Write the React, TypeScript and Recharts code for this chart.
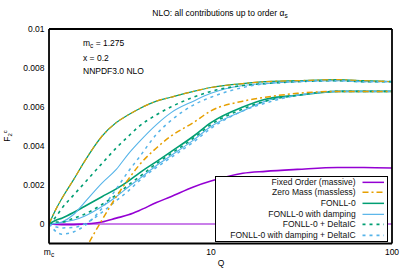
import React from 'react';
import { LineChart, Line, XAxis, YAxis, Legend } from 'recharts';

const FONT = '"Liberation Sans", Arial, Helvetica, sans-serif';

// ---------- data ----------
const qValues = [1.275, 1.4, 1.5, 1.75, 2, 2.5, 3, 3.5, 4, 5, 6, 8, 10, 15, 20, 30, 50, 70, 100];

// upper family
const fixedOrderA = [0, 0, 0, 0, 0, 0, 0, 0, 0, 0, 0, 0, 0, 0, 0, 0, 0, 0, 0];
const zeroMassA = [0, 0.0008, 0.0013, 0.0023, 0.0032, 0.0045, 0.0052, 0.0056, 0.0059, 0.0063, 0.0065, 0.0068, 0.007, 0.0072, 0.0073, 0.00735, 0.0074, 0.00735, 0.0073];
const fonllA = [0, 0.0008, 0.0013, 0.0023, 0.0032, 0.0045, 0.0052, 0.0056, 0.0059, 0.0063, 0.0065, 0.0068, 0.007, 0.0072, 0.0073, 0.00735, 0.0074, 0.00735, 0.0073];
const fonllDampA = [0, 0.00003, 0.0001, 0.0005, 0.0011, 0.0021, 0.0028, 0.0036, 0.0042, 0.0051, 0.0057, 0.0063, 0.0067, 0.0071, 0.0072, 0.0073, 0.00735, 0.0073, 0.0073];
const fonllDeltaA = [0, 0.0004, 0.0008, 0.0015, 0.0021, 0.0031, 0.0039, 0.0045, 0.005, 0.0056, 0.006, 0.0065, 0.0068, 0.0071, 0.0072, 0.0073, 0.00735, 0.0073, 0.0073];
const fonllDampDeltaA = [0, -0.0004, -0.00052, -0.0004, -0.0001, 0.0008, 0.0018, 0.0027, 0.0034, 0.0046, 0.0053, 0.0061, 0.0065, 0.007, 0.0072, 0.0073, 0.00735, 0.0073, 0.0073];

// lower family
const fixedOrderB = [0, -0.00002, -0.00003, -0.00003, 0, 0.0001, 0.0003, 0.00047, 0.00068, 0.0011, 0.0014, 0.0019, 0.0022, 0.0026, 0.0027, 0.0028, 0.0029, 0.0029, 0.00287];
const zeroMassB = [-0.007, -0.005, -0.0041, -0.0025, -0.0014, 0.0002, 0.0014, 0.0023, 0.003, 0.0039, 0.0045, 0.0052, 0.0058, 0.0063, 0.0065, 0.0067, 0.0068, 0.0068, 0.0068];
const fonllB = [0, 0.0002, 0.0003, 0.0006, 0.0009, 0.0014, 0.0018, 0.0022, 0.0026, 0.0032, 0.0037, 0.0045, 0.0052, 0.006, 0.0064, 0.0066, 0.0068, 0.0068, 0.0068];
const fonllDampB = [0, 0.00003, 0.00008, 0.0002, 0.0004, 0.0009, 0.0014, 0.0019, 0.0023, 0.003, 0.0035, 0.0043, 0.005, 0.0058, 0.0063, 0.0066, 0.0068, 0.0068, 0.0068];
const fonllDeltaB = [0, 0.0001, 0.0001, 0.0003, 0.0005, 0.001, 0.0015, 0.002, 0.0024, 0.0031, 0.0036, 0.0044, 0.0051, 0.0059, 0.0063, 0.0066, 0.0068, 0.0068, 0.0068];
const fonllDampDeltaB = [0, -0.00015, -0.0002, -0.00018, 0, 0.0006, 0.0012, 0.0017, 0.0022, 0.0029, 0.0034, 0.0042, 0.0049, 0.0058, 0.0062, 0.0066, 0.0068, 0.0068, 0.0068];

const xTicks = [1.275, 10, 100];
const xMajorTickMarks = [10];
const xMinorTicks = [2, 3, 4, 5, 6, 7, 8, 9, 20, 30, 40, 50, 60, 70, 80, 90];
const yTicks = [0, 0.002, 0.004, 0.006, 0.008, 0.01];
const yTickLabels = ['0', '0.002', '0.004', '0.006', '0.008', '0.01'];

const legendNames = [
  'Fixed Order (massive)',
  'Zero Mass (massless)',
  'FONLL-0',
  'FONLL-0 with damping',
  'FONLL-0 + DeltaIC',
  'FONLL-0 with damping + DeltaIC',
];

// ---------- styles ----------
const PURPLE = '#9400d3';
const ORANGE = '#e69f00';
const GREEN = '#009e73';
const BLUE = '#56b4e9';

const legendStyles = [
  { color: PURPLE, dash: undefined as string | undefined, width: 1.5 },
  { color: ORANGE, dash: '6 3 2 3', width: 1.5 },
  { color: GREEN, dash: undefined, width: 1.5 },
  { color: BLUE, dash: undefined, width: 1.2 },
  { color: GREEN, dash: '3 4', width: 1.8 },
  { color: BLUE, dash: '3 4', width: 1.8 },
];

const series = [
  { key: 'foB', values: fixedOrderB, style: 0, width: 1.6 },
  { key: 'foA', values: fixedOrderA, style: 0, width: 1.1 },
  { key: 'fnA', values: fonllA, style: 2, width: 1.2 },
  { key: 'fnB', values: fonllB, style: 2, width: 1.6 },
  { key: 'fdA', values: fonllDampA, style: 3, width: 1.1 },
  { key: 'fdB', values: fonllDampB, style: 3, width: 1.1 },
  { key: 'fcA', values: fonllDeltaA, style: 4, width: 1.6 },
  { key: 'fcB', values: fonllDeltaB, style: 4, width: 1.6 },
  { key: 'fdcA', values: fonllDampDeltaA, style: 5, width: 1.5 },
  { key: 'fdcB', values: fonllDampDeltaB, style: 5, width: 1.5 },
  { key: 'zmA', values: zeroMassA, style: 1, width: 1.2 },
  { key: 'zmB', values: zeroMassB, style: 1, width: 1.5 },
];

const data = qValues.map((q, i) => {
  const row: Record<string, number> = { q };
  series.forEach((s) => {
    row[s.key] = s.values[i];
  });
  return row;
});

const XTick = (props: any) => {
  const { x, y, payload } = props;
  const v = payload.value;
  if (Math.abs(v - 1.275) < 1e-9) {
    return (
      <text x={x} y={y} dy={6.5} textAnchor="middle" fontSize={8.5} fontFamily={FONT} fill="#000">
        m<tspan dy={2.5} fontSize={6.5}>c</tspan>
      </text>
    );
  }
  return (
    <text x={x} y={y} dy={6.5} textAnchor="middle" fontSize={8.5} fontFamily={FONT} fill="#000">
      {String(v)}
    </text>
  );
};

const YTick = (props: any) => {
  const { x, y, payload } = props;
  const idx = yTicks.findIndex((t) => Math.abs(t - payload.value) < 1e-12);
  return (
    <text x={x} y={y} dy={3} textAnchor="end" fontSize={8.5} fontFamily={FONT} fill="#000">
      {idx >= 0 ? yTickLabels[idx] : ''}
    </text>
  );
};

const ROW = 10.7;
const LegendBox = () => (
  <div
    style={{
      width: 173,
      height: 66,
      boxSizing: 'border-box',
      border: '1px solid #000',
      background: '#fff',
      fontFamily: FONT,
      fontSize: 8.5,
      color: '#111',
      position: 'relative',
    }}
  >
    {legendNames.map((n, i) => (
      <React.Fragment key={n}>
        <div
          style={{
            position: 'absolute',
            left: 0,
            top: i * ROW,
            width: 139.7,
            height: ROW,
            lineHeight: `${ROW}px`,
            textAlign: 'right',
            whiteSpace: 'nowrap',
          }}
        >
          {n}
        </div>
        <svg style={{ position: 'absolute', left: 145.7, top: i * ROW }} width={23} height={ROW}>
          <line
            x1={0.5}
            x2={22}
            y1={ROW / 2}
            y2={ROW / 2}
            stroke={legendStyles[i].color}
            strokeWidth={legendStyles[i].width}
            strokeDasharray={legendStyles[i].dash}
          />
        </svg>
      </React.Fragment>
    ))}
  </div>
);

const axisStroke = { stroke: '#000', strokeWidth: 1.8 };
const tickStroke = { stroke: '#000', strokeWidth: 1 };
const xDomain = [1.275, 100];
const yDomain = [-0.001, 0.01];

export default function App() {
  return (
    <div style={{ position: 'absolute', left: 0, top: 0, width: 407, height: 271, background: '#fff' }}>
      <LineChart
        width={407}
        height={271}
        data={data}
        margin={{ top: 29, right: 15, bottom: 27.5, left: 49 }}
        style={{ fontFamily: FONT }}
      >
        <XAxis
          xAxisId="x"
          dataKey="q"
          type="number"
          scale="log"
          domain={xDomain}
          allowDataOverflow
          ticks={xTicks}
          interval={0}
          height={0.01}
          tickSize={0}
          tickMargin={5}
          tickLine={false}
          axisLine={axisStroke}
          tick={XTick}
        />
        <XAxis
          xAxisId="xb"
          type="number"
          scale="log"
          domain={xDomain}
          allowDataOverflow
          ticks={xMajorTickMarks}
          interval={0}
          height={0.01}
          mirror
          tickSize={5}
          tick={false}
          tickLine={tickStroke}
          axisLine={false}
        />
        <XAxis
          xAxisId="xbm"
          type="number"
          scale="log"
          domain={xDomain}
          allowDataOverflow
          ticks={xMinorTicks}
          interval={0}
          height={0.01}
          mirror
          tickSize={3}
          tick={false}
          tickLine={tickStroke}
          axisLine={false}
        />
        <XAxis
          xAxisId="xt"
          orientation="top"
          type="number"
          scale="log"
          domain={xDomain}
          allowDataOverflow
          ticks={xMajorTickMarks}
          interval={0}
          height={0.01}
          mirror
          tickSize={5}
          tick={false}
          tickLine={tickStroke}
          axisLine={axisStroke}
        />
        <XAxis
          xAxisId="xtm"
          orientation="top"
          type="number"
          scale="log"
          domain={xDomain}
          allowDataOverflow
          ticks={xMinorTicks}
          interval={0}
          height={0.01}
          mirror
          tickSize={3}
          tick={false}
          tickLine={tickStroke}
          axisLine={false}
        />
        <YAxis
          yAxisId="y"
          type="number"
          domain={yDomain}
          allowDataOverflow
          ticks={yTicks}
          interval={0}
          width={0.01}
          tickSize={0}
          tickMargin={4.5}
          tickLine={false}
          axisLine={axisStroke}
          tick={YTick}
        />
        <YAxis
          yAxisId="yl"
          type="number"
          domain={yDomain}
          allowDataOverflow
          ticks={yTicks}
          interval={0}
          width={0.01}
          mirror
          tickSize={4}
          tick={false}
          tickLine={tickStroke}
          axisLine={false}
        />
        <YAxis
          yAxisId="yr"
          orientation="right"
          type="number"
          domain={yDomain}
          allowDataOverflow
          ticks={yTicks}
          interval={0}
          width={0.01}
          mirror
          tickSize={4}
          tick={false}
          tickLine={tickStroke}
          axisLine={axisStroke}
        />
        {series.map((s) => {
          const st = legendStyles[s.style];
          return (
            <Line
              key={s.key}
              xAxisId="x"
              yAxisId="y"
              dataKey={s.key}
              type="monotone"
              stroke={st.color}
              strokeWidth={s.width}
              strokeDasharray={st.dash}
              dot={false}
              activeDot={false}
              legendType="none"
              isAnimationActive={false}
            />
          );
        })}
        <Legend
          layout="vertical"
          align="center"
          verticalAlign="middle"
          wrapperStyle={{ left: 215, top: 175.5, width: 173 }}
          content={() => <LegendBox />}
        />
      </LineChart>
      <svg
        width={407}
        height={271}
        style={{ position: 'absolute', left: 0, top: 0, pointerEvents: 'none' }}
        fontFamily={FONT}
        fontSize={8.5}
      >
        <text x={220} y={16} textAnchor="middle" fill="#000">
          NLO: all contributions up to order α<tspan dy={2} fontSize={6.5}>s</tspan>
        </text>
        <text x={83} y={46} fill="#000">
          m<tspan dy={2} fontSize={6.5}>c</tspan>
          <tspan dy={-2}> = 1.275</tspan>
        </text>
        <text x={83} y={60.5} fill="#000">x = 0.2</text>
        <text x={83} y={73.5} fill="#000">NNPDF3.0 NLO</text>
        <text x={221} y={266} textAnchor="middle" fill="#000">Q</text>
        <text transform="translate(10,136) rotate(-90)" textAnchor="middle" fill="#000">
          F<tspan dy={2} fontSize={6}>2</tspan>
          <tspan dy={-5} fontSize={6}>c</tspan>
        </text>
      </svg>
    </div>
  );
}
